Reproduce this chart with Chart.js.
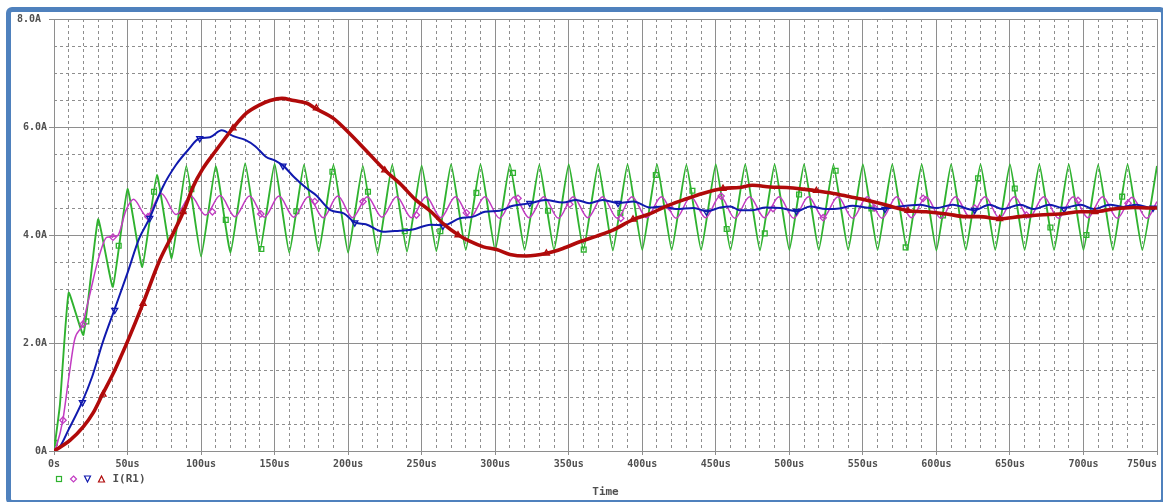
<!DOCTYPE html>
<html>
<head>
<meta charset="utf-8">
<script src="https://cdn.jsdelivr.net/npm/chart.js@4"></script>
<style>
  html, body { margin: 0; padding: 0; background: #ffffff; }
  #wrap { position: relative; width: 1163px; height: 502px; overflow: hidden; }
  #plot { position: absolute; left: 0; top: 0; }
  #frame {
    position: absolute; left: 6px; top: 7px; width: 1160px; height: 498px;
    box-sizing: border-box; border: 5px solid #4f81bd; border-radius: 6px;
    pointer-events: none;
  }
</style>
</head>
<body>
<div id="wrap">
  <canvas id="plot" width="1163" height="502"></canvas>
  <div id="frame"></div>
</div>
<script>
// Axis tick labels
const xTickLabels = ['0s','50us','100us','150us','200us','250us','300us','350us','400us','450us','500us','550us','600us','650us','700us','750us'];
const yTickLabels = ['0A','2.0A','4.0A','6.0A','8.0A'];

// Trace 1 (green): time in us, current in A
const greenTime = [0,4,10,20,30,40,50,60,70,80,90,100,110,120,130,140,150,160,170,180,190,200,210,220,230,240,250,260,270,280,290,300,310,320,330,340,350,360,370,380,390,400,410,420,430,440,450,460,470,480,490,500,510,520,530,540,550,560,570,580,590,600,610,620,630,640,650,660,670,680,690,700,710,720,730,740,750];
const greenAmps = [0,0.85,2.93,2.15,4.29,3.04,4.85,3.41,5.11,3.57,5.28,3.60,5.28,3.67,5.33,3.70,5.32,3.67,5.30,3.69,5.30,3.67,5.28,3.66,5.30,3.69,5.29,3.70,5.31,3.72,5.31,3.71,5.31,3.72,5.30,3.72,5.31,3.72,5.31,3.71,5.31,3.72,5.31,3.72,5.30,3.72,5.31,3.72,5.31,3.71,5.31,3.72,5.31,3.72,5.30,3.72,5.31,3.72,5.31,3.72,5.31,3.71,5.31,3.72,5.31,3.72,5.31,3.72,5.31,3.72,5.31,3.72,5.30,3.72,5.31,3.72,5.28];

// Trace 2 (magenta)
const magentaTime = [0,2,6,10,14,19,24,30,36,43,49,54,63,73,83,93,103,113,123,133,143,153,163,173,183,193,203,213,223,233,243,253,263,273,283,293,303,313,323,333,343,353,363,373,383,393,403,413,423,433,443,453,463,473,483,493,503,513,523,533,543,553,563,573,583,593,603,613,623,633,643,653,663,673,683,693,703,713,723,733,743,750];
const magentaAmps = [0,0.12,0.57,1.35,2.06,2.32,2.86,3.54,3.96,3.98,4.46,4.66,4.35,4.77,4.38,4.72,4.37,4.73,4.34,4.72,4.33,4.72,4.33,4.71,4.32,4.72,4.32,4.71,4.33,4.71,4.32,4.71,4.32,4.71,4.32,4.71,4.31,4.71,4.32,4.71,4.31,4.71,4.32,4.71,4.31,4.71,4.32,4.71,4.31,4.71,4.32,4.72,4.31,4.71,4.32,4.71,4.31,4.71,4.32,4.71,4.31,4.71,4.31,4.71,4.32,4.71,4.31,4.71,4.32,4.71,4.31,4.71,4.32,4.71,4.31,4.71,4.32,4.71,4.31,4.70,4.31,4.62];

// Trace 3 (blue)
const blueTime = [0,4,10,19,26,33,41,50,58,65,74,83,91,99,106,114,122,130,137,144,151,156,163,172,178,188,197,205,212,224,235,244,256,265,276,285,293,303,312,324,334,346,355,364,373,384,394,405,414,423,435,444,453,460,466,475,484,494,505,514,525,534,543,552,562,568,575,589,600,611,626,636,645,657,666,677,686,698,707,718,727,736,747,750];
const blueAmps = [0,0.08,0.40,0.90,1.38,2.00,2.61,3.30,3.94,4.31,4.89,5.30,5.57,5.79,5.81,5.94,5.83,5.76,5.64,5.45,5.37,5.28,5.08,4.86,4.74,4.46,4.40,4.23,4.20,4.06,4.08,4.10,4.19,4.18,4.31,4.34,4.43,4.45,4.54,4.59,4.65,4.60,4.65,4.59,4.65,4.59,4.62,4.51,4.53,4.48,4.50,4.44,4.51,4.53,4.46,4.46,4.51,4.50,4.44,4.53,4.48,4.49,4.54,4.51,4.48,4.50,4.53,4.56,4.50,4.56,4.46,4.56,4.48,4.56,4.48,4.56,4.50,4.56,4.48,4.56,4.52,4.56,4.50,4.51];

// Trace 4 (dark red): I(R1)
const redTime = [0,11,20,26.5,33,40,46,50,60.5,72,81,88,94.5,101,110,122,131,140,147,155,163,172,178,190,201,212,225,235,246,256,265,275,283,292,301,310,321,335,346,358,369,380,394,405,416,428,441,455,466,475,487,498,512,518,530,541,552,564,573,581,593,607,620,629,643,657,670,684,698,708,720,734,745,750];
const redAmps = [0,0.20,0.45,0.70,1.05,1.42,1.78,2.03,2.73,3.54,4.03,4.43,4.89,5.22,5.56,5.99,6.26,6.41,6.49,6.53,6.49,6.44,6.34,6.16,5.88,5.57,5.20,4.96,4.65,4.44,4.20,4.00,3.88,3.78,3.73,3.64,3.61,3.66,3.75,3.88,3.98,4.09,4.29,4.39,4.53,4.65,4.77,4.86,4.88,4.92,4.89,4.88,4.84,4.82,4.77,4.71,4.65,4.57,4.50,4.45,4.43,4.39,4.34,4.34,4.30,4.34,4.37,4.39,4.43,4.43,4.48,4.51,4.50,4.50];

// Trace symbols placed along each curve
const greenMarkTime = [0.5,22,44,68,93.4,116.8,141,164.8,189.3,213.5,238.5,262.7,287.2,312.1,335.9,360.2,385.1,409.2,434.1,457.4,483.3,506.6,531.5,555.8,579.1,604.5,628.3,653.3,677.5,702,726.3];
const greenMarkAmps = [0.15,2.40,3.80,4.80,4.85,4.28,3.74,4.44,5.17,4.80,4.07,4.07,4.78,5.15,4.45,3.73,4.41,5.11,4.82,4.11,4.03,4.75,5.19,4.49,3.77,4.36,5.05,4.86,4.14,4.00,4.71];
const magentaMarkTime = [6.1,19.7,40.1,63.9,107.7,140.6,177.3,210.1,246.4,280.4,315.5,350.7,385.4,418.7,453.6,488.9,523,558,591,626,661.2,696.3,730.3];
const magentaMarkAmps = [0.57,2.35,3.96,4.34,4.43,4.39,4.62,4.62,4.37,4.41,4.68,4.57,4.31,4.51,4.72,4.49,4.32,4.50,4.68,4.50,4.37,4.64,4.59];
const blueMarkTime = [19.3,41.3,65.1,99.1,155.7,204.5,264.5,323.5,383.5,443.6,504.8,565,626,686.9,747.3];
const blueMarkAmps = [0.90,2.61,4.31,5.79,5.28,4.23,4.17,4.59,4.59,4.43,4.44,4.48,4.46,4.48,4.50];
const redMarkTime = [33.3,60.5,87.7,121.7,178.4,224.9,274.7,334.8,393.7,454.9,518.4,580.7,643,707.7];
const redMarkAmps = [1.05,2.73,4.43,5.98,6.35,5.20,4.00,3.66,4.29,4.86,4.82,4.45,4.30,4.43];

const traceName = 'I(R1)';

const GREEN = '#2fb22f', MAGENTA = '#c23cc2', BLUE = '#1019ae', RED = '#b00a0a';
const GRID = '#8e8e8e', TEXT = '#505050';
const MONO = '"DejaVu Sans Mono", "Liberation Mono", monospace';

const pts = (xs, ys) => xs.map((x, i) => ({ x, y: ys[i] }));

function lineSet(data, color, width, order, smooth) {
  return {
    type: 'line', data, borderColor: color, borderWidth: width, pointRadius: 0,
    fill: false, order,
    cubicInterpolationMode: smooth ? 'monotone' : 'default',
    tension: smooth ? 0.4 : 0.12
  };
}
function markSet(data, color, style, rotation, radius, order) {
  return {
    type: 'scatter', data, showLine: false, order,
    pointStyle: style, rotation, pointRadius: radius, pointBorderWidth: 1.3,
    pointBackgroundColor: 'rgba(255,255,255,0)', pointBorderColor: color,
    pointHoverRadius: radius
  };
}

// Symbol row and trace name under the axis
const symbolLegend = {
  id: 'symbolLegend',
  afterDraw(chart) {
    const ctx = chart.ctx;
    const y = 479;
    ctx.save();
    ctx.lineWidth = 1.2;
    // square
    ctx.strokeStyle = GREEN;
    ctx.strokeRect(56.5, 476.5, 5, 5);
    // diamond
    ctx.strokeStyle = MAGENTA;
    ctx.beginPath();
    ctx.moveTo(73.5, y - 3); ctx.lineTo(76.5, y); ctx.lineTo(73.5, y + 3); ctx.lineTo(70.5, y); ctx.closePath();
    ctx.stroke();
    // down triangle
    ctx.strokeStyle = BLUE;
    ctx.beginPath();
    ctx.moveTo(84.5, y - 3); ctx.lineTo(90.5, y - 3); ctx.lineTo(87.5, y + 3); ctx.closePath();
    ctx.stroke();
    // up triangle
    ctx.strokeStyle = RED;
    ctx.beginPath();
    ctx.moveTo(101.5, y - 3); ctx.lineTo(104.5, y + 3); ctx.lineTo(98.5, y + 3); ctx.closePath();
    ctx.stroke();
    ctx.fillStyle = TEXT;
    ctx.font = 'bold 11px ' + MONO;
    ctx.textBaseline = 'middle';
    ctx.textAlign = 'left';
    ctx.fillText(traceName, 112.5, y);
    ctx.restore();
  }
};

new Chart(document.getElementById('plot'), {
  data: {
    datasets: [
      markSet(pts(redMarkTime, redMarkAmps), RED, 'triangle', 0, 3.5, 0),
      lineSet(pts(redTime, redAmps), RED, 3.6, 1, true),
      markSet(pts(blueMarkTime, blueMarkAmps), BLUE, 'triangle', 180, 3.5, 2),
      lineSet(pts(blueTime, blueAmps), BLUE, 2, 3, true),
      markSet(pts(magentaMarkTime, magentaMarkAmps), MAGENTA, 'rectRot', 0, 3.2, 4),
      lineSet(pts(magentaTime, magentaAmps), MAGENTA, 1.5, 5, true),
      markSet(pts(greenMarkTime, greenMarkAmps), GREEN, 'rect', 0, 3.4, 6),
      lineSet(pts(greenTime, greenAmps), GREEN, 1.9, 7, false)
    ]
  },
  options: {
    responsive: false,
    animation: false,
    devicePixelRatio: 1,
    layout: { padding: { left: 0, right: 6, top: 19, bottom: 0 } },
    plugins: { legend: { display: false }, tooltip: { enabled: false } },
    scales: {
      x: {
        type: 'linear', position: 'bottom', min: 0, max: 750,
        ticks: {
          stepSize: 50, autoSkip: false, maxRotation: 0, padding: 3,
          color: TEXT, font: { family: MONO, size: 10, weight: 'bold' },
          callback: (v, i, ticks) => {
            const s = xTickLabels[i];
            return i === ticks.length - 1 ? s + '     ' : s;
          }
        },
        grid: { color: GRID, lineWidth: 1, tickLength: 4, tickColor: GRID },
        border: { color: GRID, width: 1 },
        title: {
          display: true, text: 'Time', color: TEXT,
          font: { family: MONO, size: 11, weight: 'bold' }, padding: { top: 0, bottom: 3 }
        },
        afterFit: (s) => { s.height = 51; s.paddingLeft = 0; s.paddingRight = 0; }
      },
      xMinor: {
        type: 'linear', position: 'bottom', min: 0, max: 750,
        ticks: { display: false, stepSize: 10 },
        grid: {
          drawTicks: false, lineWidth: 1,
          color: (c) => (c.tick && c.tick.value % 50 === 0) ? 'rgba(0,0,0,0)' : GRID
        },
        border: { display: false, dash: [3, 3] },
        afterFit: (s) => { s.height = 0; s.paddingLeft = 0; s.paddingRight = 0; }
      },
      y: {
        type: 'linear', position: 'left', min: 0, max: 8,
        ticks: {
          stepSize: 2, padding: 2, color: TEXT,
          font: { family: MONO, size: 10, weight: 'bold' },
          callback: (v, i, ticks) => {
            const s = yTickLabels[i];
            return i === ticks.length - 1 ? s + ' ' : s;
          }
        },
        grid: { color: GRID, lineWidth: 1, tickLength: 5, tickColor: GRID },
        border: { color: GRID, width: 1 },
        afterFit: (s) => { s.width = 54; }
      },
      yMinor: {
        type: 'linear', position: 'left', min: 0, max: 8,
        ticks: { display: false, stepSize: 0.5 },
        grid: {
          drawTicks: false, lineWidth: 1,
          color: (c) => (c.tick && c.tick.value % 2 === 0) ? 'rgba(0,0,0,0)' : GRID
        },
        border: { display: false, dash: [3, 3] },
        afterFit: (s) => { s.width = 0; s.paddingTop = 0; s.paddingBottom = 0; }
      }
    }
  },
  plugins: [symbolLegend]
});
</script>
</body>
</html>
